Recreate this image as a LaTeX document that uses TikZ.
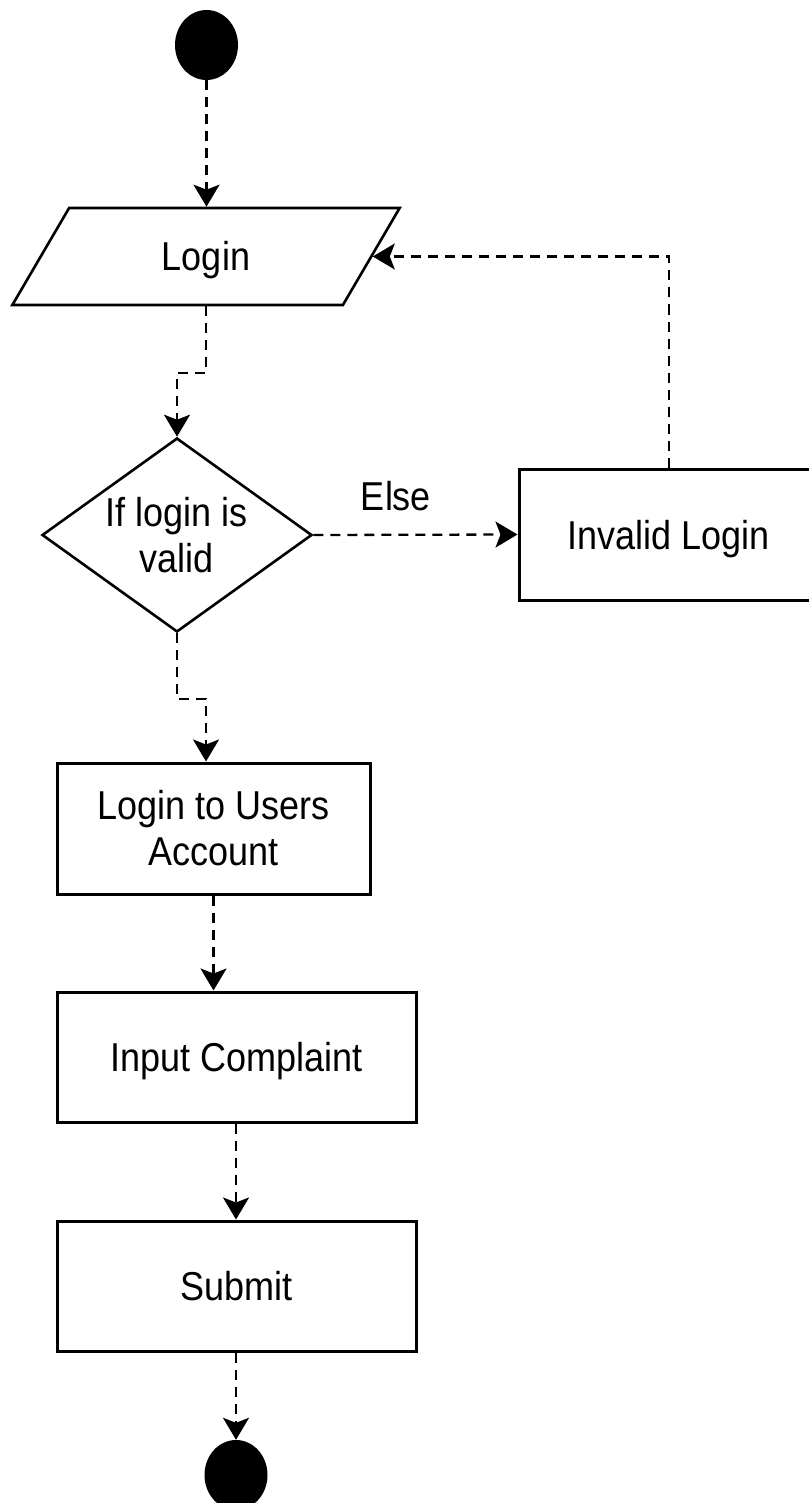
\documentclass[tikz,border=0pt]{standalone}
\usepackage{fontspec}
\usepackage{graphicx}
\setmainfont{Liberation Sans}
\usetikzlibrary{shapes.geometric,arrows.meta,calc}
\newcommand{\TT}[1]{\scalebox{1}[1.12]{#1}}
\tikzset{
  lbl/.style={font=\fontsize{36}{46}\selectfont, text=black, inner sep=0pt, text height=29pt, text depth=0pt, align=center},
  lbl2/.style={lbl, text height=74pt},
  box/.style={draw=black, line width=3pt, rectangle, inner sep=0pt},
  dot/.style={ellipse, fill=black, draw=none, minimum width=63pt, minimum height=70pt, inner sep=0pt},
  conn/.style={line width=2.3pt, dash pattern=on 10pt off 7pt, -{Stealth[length=22pt,width=26pt,inset=5pt]}},
}
\begin{document}
\begin{tikzpicture}[x=1pt,y=-1pt]
\useasboundingbox (0,0) rectangle (808,1503);
\node[dot] (start) at (206.5,45) {};
\node[lbl, trapezium, draw=black, line width=2.6pt, trapezium left angle=57.8, trapezium right angle=122.2, trapezium stretches=true, minimum width=388pt, minimum height=97pt] (login) at (206,256.5) {\TT{Login}};
\node[lbl2, diamond, draw=black, line width=2.6pt, aspect=1.39, minimum width=270pt, minimum height=194pt] (dec) at (177,535) {\TT{If login is}\\\TT{valid}};
\node[lbl, box, minimum width=320pt, minimum height=131pt] (invalid) at (679,534.5) {};
\node[lbl] (invalidtxt) at (669,534.5) {\TT{Invalid Login}};
\node[lbl2, box, minimum width=313pt, minimum height=131pt] (users) at (213.5,828.5) {\TT{Login to Users}\\\TT{Account}};
\node[lbl, box, minimum width=359pt, minimum height=130pt] (input) at (236.5,1057) {\TT{Input Complaint}};
\node[lbl, box, minimum width=359pt, minimum height=130pt] (submit) at (236.5,1286) {\TT{Submit}};
\node[dot] (end) at (236,1475) {};
\node[lbl] (elselbl) at (396,496) {\TT{Else}};
\draw[conn] (start.south) -- (start.south |- login.north);
\draw[conn] (login.south) -- ++(0,67) -| (dec.north);
\draw[conn] (dec.east) -- (invalid.west);
\draw[conn] ([xshift=-10pt]invalid.north) |- (login.east);
\draw[conn] (dec.south) -- ++(0,66) -| ([xshift=-7.5pt]users.north);
\draw[conn] (users.south) -- (users.south |- input.north);
\draw[conn] ([xshift=-0.5pt]input.south) -- ([xshift=-0.5pt]submit.north);
\draw[conn] ([xshift=-0.5pt]submit.south) -- (end.north);
\end{tikzpicture}
\end{document}
